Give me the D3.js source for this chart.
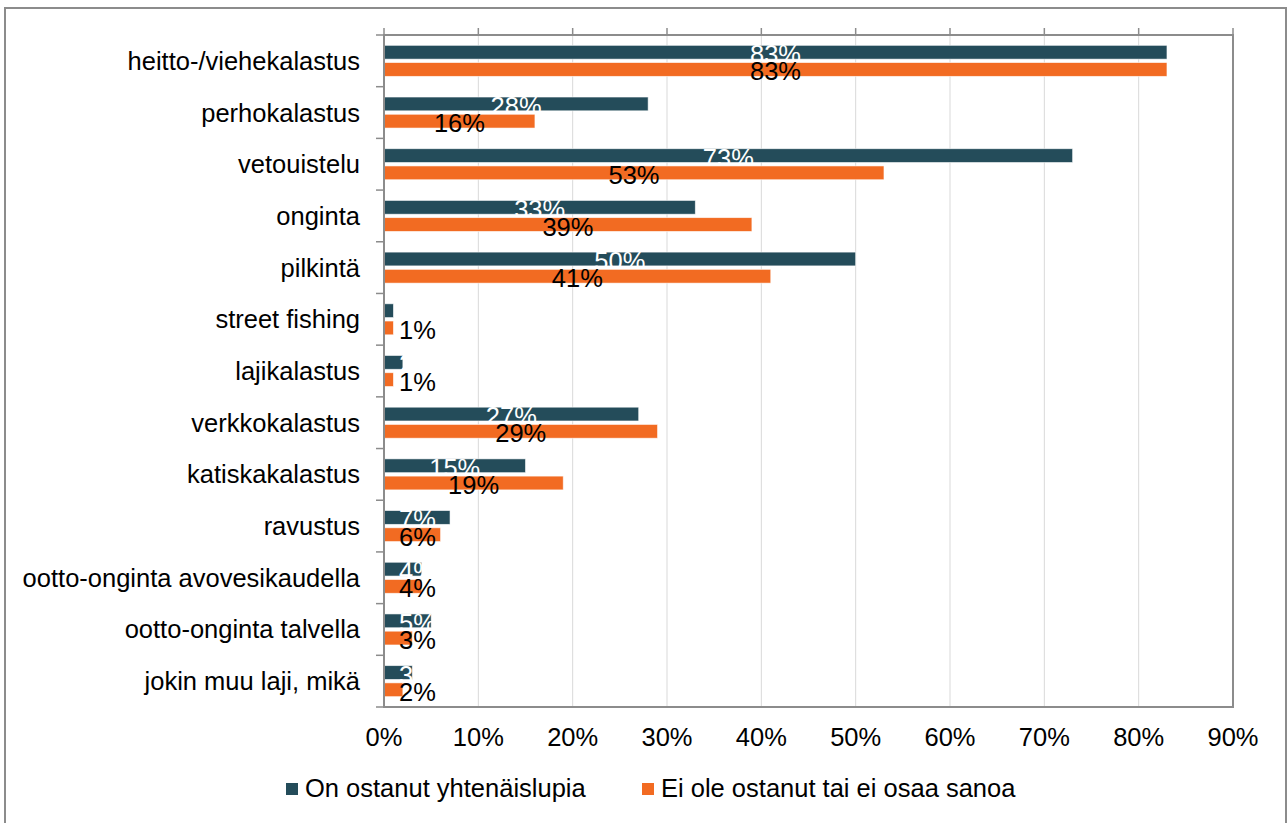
<!DOCTYPE html>
<html>
<head>
<meta charset="utf-8">
<style>
  body { margin: 0; background: #fff; }
  svg { display: block; font-family: 'Liberation Sans', Arial, sans-serif; }
</style>
</head>
<body>
<svg width="1287" height="823"></svg>
<script src="https://d3js.org/d3.v7.min.js"></script>
<script>
  // values
  const categories = ["heitto-/viehekalastus", "perhokalastus", "vetouistelu", "onginta", "pilkintä",
    "street fishing", "lajikalastus", "verkkokalastus", "katiskakalastus", "ravustus",
    "ootto-onginta avovesikaudella", "ootto-onginta talvella", "jokin muu laji, mikä"];
  const seriesNames = ["On ostanut yhtenäislupia", "Ei ole ostanut tai ei osaa sanoa"];
  const bought = [83, 28, 73, 33, 50, 1, 2, 27, 15, 7, 4, 5, 3];
  const notBought = [83, 16, 53, 39, 41, 1, 1, 29, 19, 6, 4, 3, 2];
  const xTicks = [0, 10, 20, 30, 40, 50, 60, 70, 80, 90];

  const colors = ["#244c5a", "#f26b22"];
  const labelColors = ["#ffffff", "#000000"];
  const series = [bought, notBought];

  const svg = d3.select("svg");
  const plotLeft = 384, plotRight = 1233, plotTop = 35, plotBottom = 707;
  const fs = "25.5px";

  // outer frame
  svg.append("rect")
    .attr("x", 5).attr("y", 8).attr("width", 1281).attr("height", 820)
    .style("fill", "none").style("stroke", "#8c8c8c").style("stroke-width", 2);

  let x = d3.scaleLinear().domain([0, 90]).range([plotLeft, plotRight]);
  let y = d3.scaleBand().domain(categories).range([plotTop, plotBottom]);
  let bw = y.bandwidth();
  let inner = d3.scaleBand().domain([0, 1]).range([bw * 0.2, bw * 0.8]).paddingInner(0.2);

  // gridlines
  svg.selectAll(".grid")
    .data(xTicks.slice(1, -1))
    .join("line")
    .attr("x1", d => x(d)).attr("x2", d => x(d))
    .attr("y1", plotTop).attr("y2", plotBottom)
    .style("stroke", "#d9d9d9").style("stroke-width", 1);

  // tick marks on top
  svg.selectAll(".xtick")
    .data(xTicks)
    .join("line")
    .attr("x1", d => x(d)).attr("x2", d => x(d))
    .attr("y1", plotTop - 7).attr("y2", plotTop)
    .style("stroke", "#8c8c8c").style("stroke-width", 1.5);

  // tick labels at bottom
  svg.selectAll(".xlabel")
    .data(xTicks)
    .join("text")
    .attr("x", d => x(d)).attr("y", 746)
    .attr("text-anchor", "middle")
    .style("font-size", fs).style("fill", "#000")
    .text(d => d + "%");

  // category ticks
  let bounds = categories.map(c => y(c)).concat([plotBottom]);
  svg.selectAll(".ytick")
    .data(bounds)
    .join("line")
    .attr("x1", plotLeft - 8).attr("x2", plotLeft)
    .attr("y1", d => d).attr("y2", d => d)
    .style("stroke", "#8c8c8c").style("stroke-width", 1.5);

  // category labels
  svg.selectAll(".ylabel")
    .data(categories)
    .join("text")
    .attr("x", 360)
    .attr("y", d => y(d) + bw / 2 + 9)
    .attr("text-anchor", "end")
    .style("font-size", fs).style("fill", "#000")
    .text(d => d);

  // bars and labels, series by series
  series.forEach((vals, s) => {
    svg.selectAll(".bar-" + s)
      .data(vals)
      .join("rect")
      .attr("x", plotLeft)
      .attr("y", (d, i) => y(categories[i]) + inner(s))
      .attr("width", d => x(d) - plotLeft)
      .attr("height", inner.bandwidth())
      .style("fill", colors[s])
      .style("stroke", "rgba(255,255,255,0.7)")
      .style("stroke-width", 0.8);

    svg.selectAll(".lab-" + s)
      .data(vals)
      .join("text")
      .attr("y", (d, i) => y(categories[i]) + inner(s) + inner.bandwidth() / 2 + 11)
      .attr("text-anchor", "start")
      .style("font-size", fs)
      .style("fill", labelColors[s])
      .text(d => d + "%")
      .attr("x", function (d) {
        let w = this.getComputedTextLength();
        let cx = (plotLeft + x(d)) / 2;
        return Math.max(cx - w / 2, plotLeft + 15);
      });
  });

  // plot border
  svg.append("rect")
    .attr("x", plotLeft).attr("y", plotTop).attr("width", plotRight - plotLeft).attr("height", plotBottom - plotTop)
    .style("fill", "none").style("stroke", "#8c8c8c").style("stroke-width", 2);

  // legend
  let legendX = [286, 642];
  seriesNames.forEach((name, s) => {
    svg.append("rect")
      .attr("x", legendX[s]).attr("y", 783).attr("width", 12).attr("height", 12)
      .style("fill", colors[s]);
    svg.append("text")
      .attr("x", legendX[s] + 19).attr("y", 797)
      .style("font-size", fs).style("fill", "#000")
      .text(name);
  });
</script>
</body>
</html>
